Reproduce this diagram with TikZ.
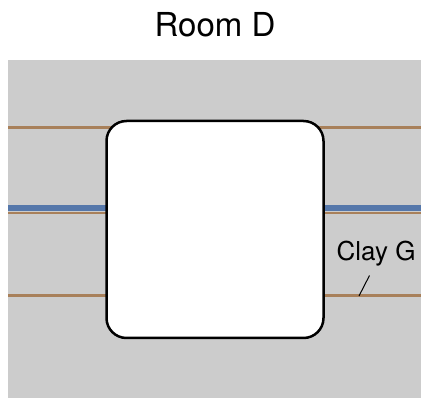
\documentclass[tikz,border=0pt]{standalone}
\usepackage{fontspec}
\setmainfont{TeX Gyre Heros}
\definecolor{bggray}{RGB}{204,204,204}
\definecolor{claybrown}{RGB}{168,128,90}
\definecolor{waterblue}{RGB}{85,119,170}
\tikzset{
  claylayer/.style={draw=claybrown, line width=3pt},
  waterlayer/.style={draw=waterblue, line width=6pt},
  roombox/.style={draw=black, fill=white, line width=2.5pt, rounded corners=20pt,
    minimum width=217pt, minimum height=217pt, inner sep=0pt},
  leader/.style={draw=black, line width=1pt},
}
\begin{document}
\begin{tikzpicture}[x=1pt,y=-1pt]
\useasboundingbox (0,0) rectangle (421,398);
\fill[bggray] (8,60) rectangle (421,398);
\node[font=\fontsize{33}{39}\selectfont, anchor=base] (title) at (215,36.7) {Room D};
\coordinate (c1w) at (8,128); \coordinate (c1e) at (421,128);
\coordinate (bw) at (8,208.5); \coordinate (be) at (421,208.5);
\coordinate (c2w) at (8,213); \coordinate (c2e) at (421,213);
\coordinate (c3w) at (8,296); \coordinate (c3e) at (421,296);
\draw[claylayer] (c1w) -- (c1e);
\draw[waterlayer] (bw) -- (be);
\draw[claylayer, line width=2.6pt] (c2w) -- (c2e);
\draw[claylayer] (c3w) -- (c3e);
\node[roombox] (room) at (215,229.5) {};
\node[font=\fontsize{26}{31}\selectfont, anchor=base west, inner sep=0pt] (clay) at (336.5,261) {Clay G};
\coordinate (ltop) at (369.5,275.5);
\coordinate (lbot) at (359,296);
\draw[leader] (ltop) -- (lbot);
\end{tikzpicture}
\end{document}
